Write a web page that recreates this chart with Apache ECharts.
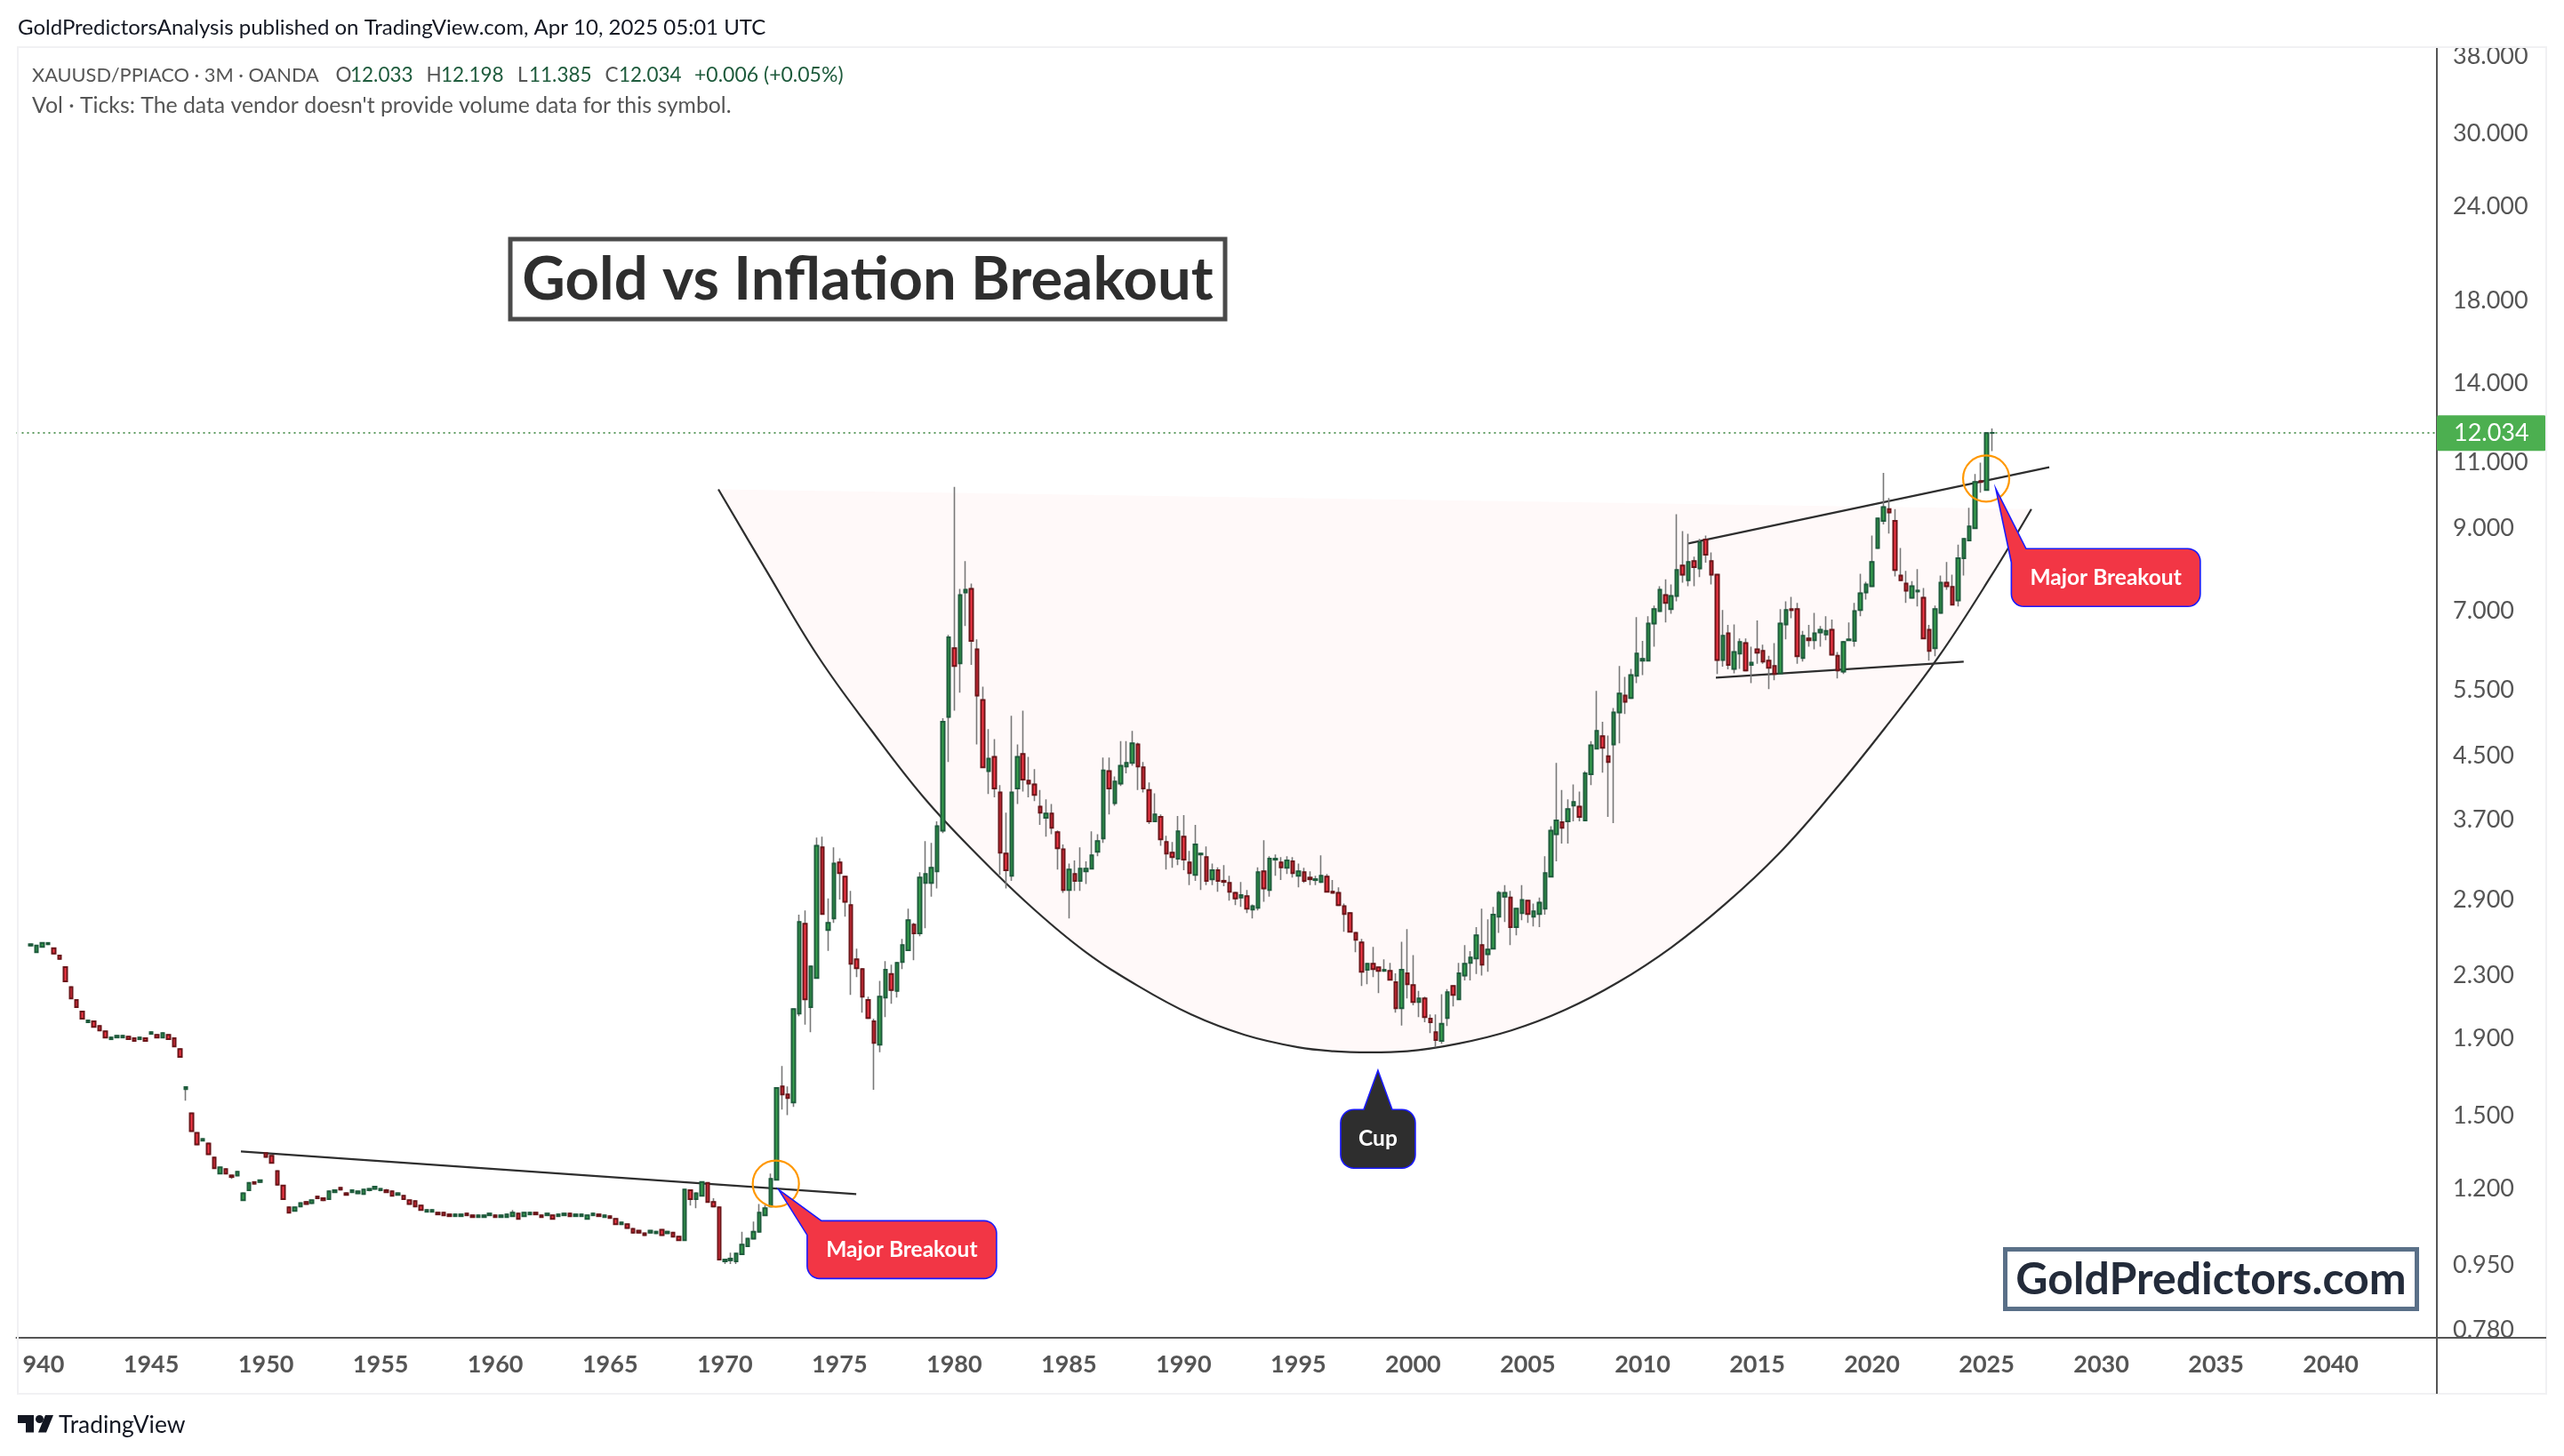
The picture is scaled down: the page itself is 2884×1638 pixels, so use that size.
<!DOCTYPE html>
<html><head><meta charset="utf-8">
<style>html,body{margin:0;padding:0;background:#fff}#c{width:2884px;height:1638px}</style>
<script src="https://cdn.jsdelivr.net/npm/echarts@6/dist/echarts.min.js"></script>
</head><body><div id="c"></div>
<script>
// Quarterly bars: [open, close] or [open, close, low, high]
const bars1939 = [[2.52,2.53],[2.47,2.52],[2.51,2.54],[2.53,2.54],[2.50,2.46],[2.445,2.42],[2.36,2.26],[2.22,2.145],[2.134,2.088],[2.06,2.016],[1.994,2.005],[2.0,1.967],[1.972,1.945],[1.94,1.904],[1.894,1.904],[1.904,1.914],[1.904,1.914,1.904,1.919],[1.909,1.894],[1.899,1.884],[1.894,1.904],[1.899,1.884],[1.925,1.935],[1.919,1.904],[1.904,1.93],[1.919,1.894],[1.899,1.853],[1.838,1.794],[1.627,1.636,1.57,1.636],[1.511,1.431],[1.423,1.374],[1.39,1.397],[1.378,1.334],[1.32,1.278],[1.257,1.281],[1.274,1.257],[1.25,1.244,1.237,1.25],[1.25,1.264],[1.159,1.184],[1.195,1.222],[1.225,1.219],[1.225,1.232],[1.338,1.323],[1.327,1.299],[1.267,1.215],[1.212,1.163],[1.134,1.116],[1.122,1.134],[1.137,1.149]];
const bars1951 = [[1.153,1.146],[1.149,1.159,1.146,1.159],[1.172,1.166],[1.166,1.159,1.156,1.166],[1.163,1.191],[1.188,1.195,1.188,1.197],[1.204,1.197,1.195,1.204],[1.184,1.178,1.178,1.188],[1.188,1.195],[1.184,1.191],[1.181,1.197],[1.195,1.2,1.191,1.2],[1.2,1.208,1.197,1.208],[1.195,1.2,1.191,1.2],[1.195,1.188,1.188,1.2],[1.191,1.175],[1.178,1.184],[1.175,1.163],[1.159,1.146],[1.156,1.137],[1.14,1.125],[1.119,1.125],[1.119,1.125],[1.116,1.11],[1.116,1.107],[1.11,1.104],[1.104,1.11],[1.104,1.11],[1.113,1.107],[1.107,1.101],[1.101,1.107],[1.101,1.107],[1.107,1.113],[1.107,1.101],[1.101,1.107],[1.101,1.11],[1.104,1.116,1.104,1.125],[1.113,1.095],[1.104,1.116],[1.11,1.116],[1.116,1.11],[1.107,1.101],[1.107,1.113],[1.107,1.095],[1.104,1.11],[1.107,1.113],[1.113,1.104],[1.104,1.11],[1.104,1.11],[1.095,1.107],[1.107,1.113],[1.11,1.104],[1.101,1.107],[1.104,1.098],[1.095,1.077],[1.077,1.083],[1.077,1.065],[1.062,1.05,1.05,1.065],[1.056,1.05],[1.048,1.042],[1.05,1.056,1.048,1.056],[1.048,1.053],[1.059,1.042],[1.048,1.053],[1.05,1.037],[1.037,1.026],[1.026,1.197],[1.195,1.163,1.14,1.195],[1.163,1.184,1.131,1.184],[1.175,1.225],[1.222,1.153],[1.153,1.137,1.137,1.166],[1.134,0.967]];
const bars1970 = [[.962,.967,.954,.967],[.965,.97,.954,.988],[.962,.985,.954,.985],[.983,1.012,.983,1.053],[1.007,1.031],[1.031,1.053,1.031,1.086],[1.053,1.116,1.053,1.146],[1.107,1.131,1.107,1.143],[1.137,1.237,1.137,1.257],[1.234,1.632,1.234,1.632],[1.64,1.60,1.528,1.745],[1.60,1.583,1.503,1.64],[1.562,2.076,1.541,2.076],[2.048,2.708,2.031,2.768],[2.693,2.139,1.98,2.805],[2.088,2.365,1.935,2.365],[2.283,3.417,2.283,3.503],[3.40,2.775,2.775,3.512],[2.643,2.70,2.48,2.91],[2.738,3.237,2.70,3.40],[3.247,3.143,2.90,3.29],[3.11,2.88,2.752,3.11],[2.85,2.384,2.168,2.977],[2.416,2.352,2.289,2.497],[2.346,2.156,2.053,2.346],[2.134,2.02,2.016,2.156],[2.0,1.873,1.623,2.016],[1.863,2.156,1.82,2.263],[2.15,2.34,2.026,2.403],[2.31,2.20,2.11,2.378],[2.195,2.39,2.15,2.397],[2.397,2.524,2.346,2.572],[2.484,2.723,2.484,2.82],[2.686,2.615,2.41,2.70],[2.615,3.10,2.592,3.152],[3.05,3.135,2.657,3.465],[3.05,3.194,2.925,3.447],[3.16,3.627,3.0,3.68],[3.578,4.985,3.55,5.04],[5.06,6.45,4.41,6.50]];
const bars1980 = [[6.24,5.91,5.16,10.21],[5.96,7.34,5.45,7.48],[7.40,7.46,6.68,8.14],[7.48,6.38,5.93,7.60],[6.22,5.40,4.655,6.41],[5.33,4.34,4.34,5.55],[4.29,4.455,4.0,4.876],[4.48,4.07,3.96,4.73],[4.02,3.345,3.127,4.11],[3.336,3.17,3.0,3.78],[3.118,4.02,3.07,5.08],[4.07,4.48,3.88,4.655],[4.52,4.18,4.03,5.16],[4.166,4.13,3.96,4.48],[4.12,3.99,3.915,4.316],[3.85,3.78,3.64,4.05],[3.72,3.77,3.513,3.935],[3.77,3.61,3.54,3.88],[3.56,3.39,3.177,3.58],[3.38,2.985,2.96,3.43],[2.985,3.177,2.738,3.237],[3.135,3.07,2.977,3.266],[3.07,3.186,2.977,3.40],[3.16,3.186,3.04,3.257],[3.186,3.318,3.186,3.57],[3.354,3.465,3.31,3.54],[3.494,4.30,3.447,4.47],[4.29,4.07,3.76,4.47],[3.89,4.155,3.86,4.22],[4.13,4.36,4.10,4.70],[4.35,4.40,4.26,4.70],[4.40,4.67,4.36,4.85],[4.655,4.35,4.05,4.68],[4.34,4.07,4.02,4.41],[4.05,3.68,3.65,4.144],[3.68,3.76,3.68,4.01],[3.73,3.485,3.417,3.76],[3.456,3.336,3.177,3.522],[3.345,3.30,3.194,3.456],[3.284,3.57,3.22,3.74]];
const bars1990 = [[3.513,3.275,3.17,3.75],[3.247,3.143,3.03,3.363],[3.127,3.43,3.07,3.64],[3.327,3.336,2.985,3.336],[3.30,3.07,3.03,3.41],[3.085,3.17,3.03,3.237],[3.17,3.07,2.97,3.20],[3.07,3.06,3.02,3.22],[3.05,2.97,2.89,3.118],[2.96,2.91,2.85,2.97],[2.918,2.94,2.835,3.06],[2.93,2.82,2.783,2.985],[2.812,2.842,2.738,2.857],[2.827,3.152,2.805,3.20],[3.16,3.0,2.88,3.475],[2.985,3.284,2.925,3.31],[3.275,3.284,3.118,3.327],[3.247,3.20,3.077,3.30],[3.194,3.266,3.135,3.31],[3.257,3.143,3.10,3.30],[3.118,3.16,3.01,3.237],[3.152,3.07,3.05,3.194],[3.10,3.085,3.03,3.16],[3.077,3.085,3.03,3.118],[3.06,3.118,3.05,3.318],[3.11,2.97,2.97,3.135],[2.97,2.96,2.96,3.077],[2.96,2.85,2.85,3.01],[2.842,2.775,2.628,2.865],[2.783,2.628,2.628,2.79],[2.62,2.565,2.47,2.62],[2.544,2.327,2.228,2.572],[2.34,2.384,2.24,2.384],[2.384,2.346,2.289,2.51],[2.358,2.333,2.18,2.358],[2.333,2.34,2.327,2.416],[2.333,2.27,2.27,2.39],[2.253,2.082,2.053,2.315],[2.082,2.34,1.975,2.55],[2.315,2.24,2.145,2.65]];
const bars2000 = [[2.234,2.122,2.10,2.447],[2.122,2.145,2.026,2.195],[2.145,2.026,1.994,2.156],[2.016,1.994,1.93,2.042],[1.935,1.889,1.848,2.042],[1.884,1.985,1.868,2.173],[2.02,2.185,1.972,2.206],[2.228,2.168,2.093,2.228],[2.139,2.315,2.139,2.39],[2.30,2.384,2.265,2.524],[2.39,2.43,2.265,2.477],[2.423,2.60,2.31,2.665],[2.524,2.378,2.30,2.82],[2.455,2.49,2.327,2.73],[2.497,2.768,2.497,2.835],[2.752,2.96,2.62,2.977],[2.925,2.96,2.708,3.03],[2.918,2.665,2.524,2.977],[2.665,2.82,2.60,2.82],[2.783,2.895,2.723,3.03],[2.89,2.775,2.70,2.89],[2.752,2.797,2.672,2.865],[2.775,2.873,2.665,2.918],[2.82,3.143,2.768,3.31],[3.11,3.578,3.11,3.627],[3.54,3.69,3.257,4.40],[3.67,3.61,3.44,4.05],[3.68,3.82,3.44,3.935],[3.863,3.904,3.68,4.12],[3.85,3.73,3.68,4.03],[3.69,4.26,3.69,4.29],[4.25,4.64,4.11,4.70],[4.595,4.85,4.595,5.48],[4.77,4.606,4.27,4.985],[4.49,4.41,3.73,4.78],[4.655,5.13,3.66,5.20],[5.13,5.434,4.67,5.91],[5.40,5.30,5.105,5.72],[5.36,5.75,5.36,5.86],[5.737,6.14,5.61,6.86]];
const bars2010 = [[6.007,6.04,5.75,6.38],[6.007,6.73,6.007,6.88],[6.73,7.03,6.27,7.11],[6.99,7.46,6.99,7.54],[7.34,7.165,6.75,7.70],[7.03,7.32,6.93,7.58],[7.32,7.92,7.20,9.39],[8.03,7.81,7.62,8.92],[7.68,8.12,7.54,8.85],[8.14,7.99,7.54,8.25],[7.96,8.62,7.75,8.71],[8.69,8.30,8.10,8.80],[8.14,7.81,7.58,8.36],[7.81,6.02,5.77,7.81],[6.02,6.48,5.90,7.01],[6.53,5.93,5.85,6.70],[5.86,6.17,5.78,6.71],[6.14,6.36,5.86,6.43],[6.34,5.83,5.83,6.43],[5.93,5.97,5.61,6.27],[6.22,6.155,5.95,6.79],[6.19,5.99,5.95,6.31],[6.007,5.88,5.51,6.10],[5.91,5.77,5.66,6.34],[5.78,6.73,5.78,7.03],[6.71,7.01,6.41,7.20],[7.03,7.01,6.84,7.30],[7.03,6.09,5.95,7.165],[6.056,6.48,5.99,6.58],[6.43,6.394,6.27,6.70],[6.394,6.53,6.22,6.95],[6.55,6.60,6.27,6.68],[6.51,6.58,6.394,6.88],[6.60,6.12,6.12,6.81],[6.10,5.83,5.69,6.17],[5.81,6.36,5.77,6.38],[6.394,6.41,6.394,6.75],[6.38,6.99,6.27,7.165],[7.01,7.38,6.88,7.83],[7.40,7.58,7.24,7.64]];
const bars2020 = [[7.54,8.12,7.523,8.80],[8.47,9.27,8.47,9.27],[9.20,9.60,9.10,10.65],[9.54,9.44,8.852,9.866],[9.20,7.92,7.77,9.54],[7.79,7.68,7.68,8.47],[7.60,7.44,7.165,7.90],[7.28,7.54,7.28,7.66],[7.42,7.44,7.09,7.942],[7.28,6.43,6.43,7.50],[6.60,6.19,6.007,6.70],[6.24,7.03,6.09,7.11],[6.95,7.62,6.95,7.79],[7.62,7.54,7.46,8.12],[7.523,7.126,7.126,7.81],[7.22,8.21,7.09,8.56],[8.21,8.71,7.79,8.71],[8.67,9.05,8.67,9.58],[9.0,10.36,9.0,10.62],[10.39,10.36,10.03,10.99],[10.11,12.03,10.11,12.03],[12.033,12.034,11.385,12.198]];

// Axis content
const priceTicks = [38,30,24,18,14,11,9,7,5.5,4.5,3.7,2.9,2.3,1.9,1.5,1.2,0.95,0.78];
const yearLabels = [1940,1945,1950,1955,1960,1965,1970,1975,1980,1985,1990,1995,2000,2005,2010,2015,2020,2025,2030,2035,2040];
const lastPrice = 12.034;

// Cup arc, as decimal years and prices
const cupYears  = [1969.72,1971.73,1974.06,1976.38,1978.71,1981.03,1983.36,1985.68,1988.01,1990.33,1992.66,1994.98,1996.53,1998.12,1999.75,2001.96,2004.28,2006.61,2008.94,2011.26,2013.59,2015.91,2018.24,2020.56,2022.89,2025.21,2026.95];
const cupPrices = [10.13,7.985,6.09,4.863,3.946,3.318,2.835,2.477,2.228,2.042,1.919,1.848,1.826,1.82,1.826,1.868,1.945,2.07,2.253,2.506,2.857,3.327,4.0,4.89,6.07,7.79,9.54];

// Trend lines: [[year, price], [year, price]]
const lineBase1972   = [[1948.91,1.345],[1975.73,1.181]];
const lineChannelTop = [[2012.0,8.59],[2027.73,10.84]];
const lineChannelLow = [[2013.2,5.706],[2024.0,5.99]];
const breakoutCircles = [[1972.225,1.219],[2024.98,10.47]];

// Callout tips: [year, price, text]
const callouts = [[1972.35,1.197,'Major Breakout'],[2025.4,10.15,'Major Breakout'],[1998.47,1.722,'Cup']];

// ---- layout / styling ----
const firstYear = 1939, firstQuarter = 2, quarterCount = 422, firstBarIndex = 2;
const categories = [];
for (let i = 0; i < quarterCount; i++) {
  const q = firstYear * 4 + (firstQuarter - 1) + i;
  categories.push(Math.floor(q / 4) + ' Q' + (q % 4 + 1));
}
const rows = [].concat(bars1939, bars1951, bars1970, bars1980, bars1990, bars2000, bars2010, bars2020).map(function (r, i) {
  const low = r.length > 2 ? r[2] : Math.min(r[0], r[1]);
  const high = r.length > 2 ? r[3] : Math.max(r[0], r[1]);
  return { x: firstBarIndex + i, o: r[0], c: r[1], l: low, h: high };
});
const wickData = rows.map(r => [r.x, r.o, r.c, r.l, r.h]);
const bodyData = rows.map(r => [r.x, r.o, r.c, Math.min(r.o, r.c), Math.max(r.o, r.c)]);

const FONT = 'Lato';
const GL = 18.5, GR = 2741, GT = 53, GB = 1505;

function boxPoints(b) {
  const pts = [], r = b.r, seg = 8;
  function arc(cx, cy, a0, a1) {
    for (let k = 0; k <= seg; k++) {
      const a = a0 + (a1 - a0) * k / seg;
      pts.push([cx + r * Math.cos(a), cy + r * Math.sin(a)]);
    }
  }
  const L = b.x, T = b.y, R = b.x + b.w, B = b.y + b.h;
  pts.push([0, 0]);
  pts.push([b.tailTopX, T]);
  arc(R - r, T + r, -Math.PI / 2, 0);
  arc(R - r, B - r, 0, Math.PI / 2);
  arc(L + r, B - r, Math.PI / 2, Math.PI);
  if (b.tailLeftY != null) {
    pts.push([L, b.tailLeftY]);
  } else {
    arc(L + r, T + r, Math.PI, Math.PI * 1.5);
    pts.push([b.tailTopEnd, T]);
  }
  return pts;
}
const calloutBoxes = [
  { x: 32, y: 35, w: 213, h: 65, r: 14, tailTopX: 48, tailLeftY: 51, fill: '#f23645' },
  { x: 17.5, y: 67.5, w: 212.5, h: 65, r: 14, tailTopX: 34, tailLeftY: 83, fill: '#f23645' },
  { x: -42, y: 44, w: 84, h: 66, r: 15, tailTopX: 16, tailTopEnd: -16, fill: '#2e2e2e' }
];

function legendText(x, text, fill, size) {
  return { type: 'text', z: 60, silent: true, x: x, y: 85, style: { text: text, fill: fill, font: size + 'px ' + FONT, verticalAlign: 'middle' } };
}
const GREY = '#555555', NUM = '#1e5b3c';

const chart = echarts.init(document.getElementById('c'), null, { renderer: 'canvas', width: 2884, height: 1638 });
chart.setOption({
  animation: false,
  backgroundColor: '#ffffff',
  grid: { left: GL, top: GT, width: GR - GL, height: GB - GT },
  xAxis: [{
    type: 'category', data: categories, boundaryGap: true,
    axisLine: { show: true, lineStyle: { color: '#555555', width: 2 } },
    axisTick: { show: false }, splitLine: { show: false },
    axisLabel: {
      color: '#555555', fontFamily: FONT, fontSize: 27, fontWeight: 'bold', margin: 17, hideOverlap: false,
      interval: function (i, v) { return yearLabels.indexOf(parseInt(v, 10)) >= 0 && v.slice(-1) === '1'; },
      formatter: function (v) { return v.slice(0, 4); }
    }
  }, {
    type: 'value', show: false, min: 1939.125, max: 2044.625
  }],
  yAxis: {
    type: 'log', position: 'right', min: 0.7619, max: 39.03,
    axisLine: { show: true, onZero: false, lineStyle: { color: '#555555', width: 2 } },
    axisTick: { show: false }, splitLine: { show: false },
    axisLabel: {
      customValues: priceTicks, color: '#555555', fontFamily: FONT, fontSize: 27, margin: 18, padding: [5, 0, 0, 0],
      showMinLabel: true, showMaxLabel: true, hideOverlap: false,
      formatter: function (v) { return Number(v).toFixed(3); }
    }
  },
  series: [
    {
      type: 'custom', xAxisIndex: 1, z: 1, silent: true, clip: false,
      data: [[cupYears[0], cupPrices[0]]],
      renderItem: function (p, api) {
        return { type: 'polygon', shape: { points: cupYears.map((y, i) => api.coord([y, cupPrices[i]])), smooth: 0 }, style: { fill: '#fff9f9', stroke: null } };
      }
    },
    {
      name: 'Cup arc', type: 'line', xAxisIndex: 1, z: 3, silent: true, symbol: 'none', smooth: 0.4,
      data: cupYears.map((y, i) => [y, cupPrices[i]]), lineStyle: { color: '#2e2e2e', width: 2.2 }
    },
    { name: 'Base', type: 'line', xAxisIndex: 1, z: 3, silent: true, symbol: 'none', data: lineBase1972, lineStyle: { color: '#2e2e2e', width: 2.2 } },
    { name: 'Channel top', type: 'line', xAxisIndex: 1, z: 3, silent: true, symbol: 'none', data: lineChannelTop, lineStyle: { color: '#2e2e2e', width: 2.2 } },
    { name: 'Channel low', type: 'line', xAxisIndex: 1, z: 3, silent: true, symbol: 'none', data: lineChannelLow, lineStyle: { color: '#2e2e2e', width: 2.2 } },
    {
      name: 'Wicks', type: 'candlestick', z: 4, silent: true, barWidth: 2,
      encode: { x: 0, y: [1, 2, 3, 4] }, data: wickData,
      itemStyle: { color: '#787878', color0: '#787878', borderColor: '#787878', borderColor0: '#787878', borderWidth: 1.6 },
      markLine: {
        silent: true, symbol: 'none', z: 2, animation: false,
        lineStyle: { color: '#2e7d32', type: [2, 4], width: 1.6 },
        label: {
          position: 'end', distance: 0, formatter: lastPrice.toFixed(3), color: '#ffffff', backgroundColor: '#4caf50',
          fontFamily: FONT, fontSize: 27, padding: [7, 19, 6, 19], borderRadius: 2
        },
        data: [{ yAxis: lastPrice }]
      }
    },
    {
      name: 'Bodies', type: 'candlestick', z: 5, silent: true, barWidth: 4,
      encode: { x: 0, y: [1, 2, 3, 4] }, data: bodyData,
      itemStyle: { color: '#36a04c', color0: '#f23645', borderColor: '#1e5b3c', borderColor0: '#6b1519', borderWidth: 2 }
    },
    {
      name: 'Breakout circles', type: 'scatter', xAxisIndex: 1, z: 6, silent: true, symbol: 'circle', symbolSize: 52,
      data: breakoutCircles, itemStyle: { color: 'rgba(0,0,0,0)', borderColor: '#ff9800', borderWidth: 2.2, opacity: 1 }
    },
    {
      name: 'Callouts', type: 'custom', xAxisIndex: 1, z: 7, silent: true, clip: false,
      data: callouts.map(c => [c[0], c[1]]),
      renderItem: function (p, api) {
        const i = p.dataIndex, b = calloutBoxes[i], tip = api.coord([api.value(0), api.value(1)]);
        return {
          type: 'group', x: tip[0], y: tip[1],
          children: [
            { type: 'polygon', shape: { points: boxPoints(b) }, style: { fill: b.fill, stroke: '#1a1aff', lineWidth: 1.6 } },
            { type: 'text', style: { x: b.x + b.w / 2, y: b.y + b.h / 2, text: callouts[i][2], fill: '#ffffff', font: 'bold 24.5px ' + FONT, textAlign: 'center', textVerticalAlign: 'middle', align: 'center', verticalAlign: 'middle' } }
          ]
        };
      }
    }
  ],
  graphic: { elements: [
    { type: 'rect', z: 50, silent: true, shape: { x: 0, y: 1512, width: 24.5, height: 50 }, style: { fill: '#ffffff' } },
    { type: 'rect', z: 51, silent: true, shape: { x: 20, y: 53, width: 2844, height: 1515 }, style: { fill: null, stroke: '#f1f1f3', lineWidth: 2 } },
    { type: 'line', z: 52, silent: true, shape: { x1: 2741, y1: GB, x2: 2864, y2: GB }, style: { stroke: '#555555', lineWidth: 2 } },
    { type: 'line', z: 52, silent: true, shape: { x1: 2741, y1: GB, x2: 2741, y2: 1568 }, style: { stroke: '#555555', lineWidth: 2 } },
    { type: 'text', z: 60, silent: true, x: 20, y: 31, style: { text: 'GoldPredictorsAnalysis published on TradingView.com, Apr 10, 2025 05:01 UTC', fill: '#131722', font: '24px ' + FONT, verticalAlign: 'middle' } },
    legendText(36, 'XAUUSD/PPIACO · 3M · OANDA', GREY, 21.8),
    legendText(377.5, 'O', GREY, 22.5), legendText(394, '12.033', NUM, 22.5),
    legendText(479.6, 'H', GREY, 22.5), legendText(496, '12.198', NUM, 22.5),
    legendText(582, 'L', GREY, 22.5), legendText(595, '11.385', NUM, 22.5),
    legendText(680.5, 'C', GREY, 22.5), legendText(696, '12.034', NUM, 22.5),
    legendText(781, '+0.006 (+0.05%)', NUM, 23),
    { type: 'text', z: 60, silent: true, x: 36, y: 119, style: { text: "Vol · Ticks: The data vendor doesn't provide volume data for this symbol.", fill: '#555555', font: '24.8px ' + FONT, verticalAlign: 'middle' } },
    { type: 'rect', z: 60, silent: true, shape: { x: 574, y: 269, width: 804, height: 90 }, style: { fill: '#ffffff', stroke: '#4a4a4a', lineWidth: 5 } },
    { type: 'text', z: 61, silent: true, x: 976, y: 315, style: { text: 'Gold vs Inflation Breakout', fill: '#2e2e2e', font: 'bold 67px ' + FONT, align: 'center', verticalAlign: 'middle' } },
    { type: 'rect', z: 60, silent: true, shape: { x: 2255.5, y: 1405.5, width: 463, height: 67 }, style: { fill: '#ffffff', stroke: '#5a7088', lineWidth: 5 } },
    { type: 'text', z: 61, silent: true, x: 2487, y: 1440, style: { text: 'GoldPredictors.com', fill: '#232b3a', font: 'bold 50px ' + FONT, align: 'center', verticalAlign: 'middle' } },
    { type: 'polygon', z: 60, silent: true, shape: { points: [[20,1592],[38,1592],[38,1611.5],[29,1611.5],[29,1601],[20,1601]] }, style: { fill: '#131722' } },
    { type: 'circle', z: 60, silent: true, shape: { cx: 44.5, cy: 1596.5, r: 4.5 }, style: { fill: '#131722' } },
    { type: 'polygon', z: 60, silent: true, shape: { points: [[51,1592],[60,1592],[52,1611.5],[43,1611.5]] }, style: { fill: '#131722' } },
    { type: 'text', z: 60, silent: true, x: 66, y: 1603, style: { text: 'TradingView', fill: '#131722', font: '26.4px ' + FONT, verticalAlign: 'middle' } }
  ] }
});
</script></body></html>
